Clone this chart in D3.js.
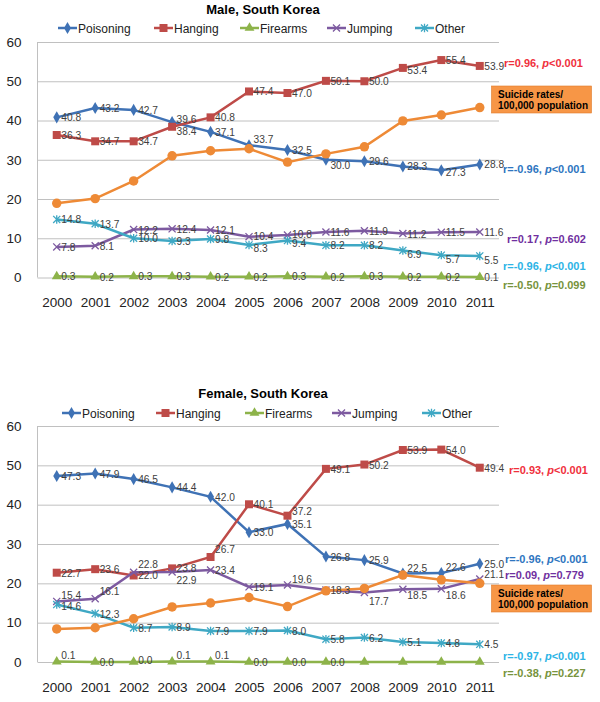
<!DOCTYPE html>
<html>
<head>
<meta charset="utf-8">
<script src="https://cdn.jsdelivr.net/npm/d3@7/dist/d3.min.js"></script>
<style>
	body { margin: 0; background: #fff; }
	svg { display: block; font-family: "Liberation Sans", Arial, sans-serif; }
	.grid line { stroke: #c0c0c0; stroke-width: 1; }
	.grid path { display: none; }
	.axis path, .axis line { display: none; }
	.axis text { fill: #222; font-size: 13.5px; }
	.series-line { fill: none; stroke-width: 2.5; }
	.value-label { fill: #404040; font-size: 10.2px; }
	.legend text { fill: #222; font-size: 12px; }
	.title { font-size: 13px; font-weight: bold; fill: #000; }
	.stat { font-size: 11px; font-weight: bold; }
	.box-text { font-size: 10px; font-weight: bold; fill: #000; }
</style>
</head>
<body>
<div id="graphic"></div>
<script>
// Data
var YEARS = [2000, 2001, 2002, 2003, 2004, 2005, 2006, 2007, 2008, 2009, 2010, 2011];
var SERIES = ['Poisoning', 'Hanging', 'Firearms', 'Jumping', 'Other'];

var MALE_POISONING = [40.8, 43.2, 42.7, 39.6, 37.1, 33.7, 32.5, 30.0, 29.6, 28.3, 27.3, 28.8];
var MALE_HANGING   = [36.3, 34.7, 34.7, 38.4, 40.8, 47.4, 47.0, 50.1, 50.0, 53.4, 55.4, 53.9];
var MALE_FIREARMS  = [0.3, 0.2, 0.3, 0.3, 0.2, 0.2, 0.3, 0.2, 0.3, 0.2, 0.2, 0.1];
var MALE_JUMPING   = [7.8, 8.1, 12.2, 12.4, 12.1, 10.4, 10.8, 11.6, 11.9, 11.2, 11.5, 11.6];
var MALE_OTHER     = [14.8, 13.7, 10.0, 9.3, 9.8, 8.3, 9.4, 8.2, 8.2, 6.9, 5.7, 5.5];
var MALE_TOTAL     = [18.9, 20.1, 24.6, 31.0, 32.3, 32.8, 29.4, 31.5, 33.3, 39.9, 41.4, 43.3];

var FEMALE_POISONING = [47.3, 47.9, 46.5, 44.4, 42.0, 33.0, 35.1, 26.8, 25.9, 22.5, 22.6, 25.0];
var FEMALE_HANGING   = [22.7, 23.6, 22.0, 23.8, 26.7, 40.1, 37.2, 49.1, 50.2, 53.9, 54.0, 49.4];
var FEMALE_FIREARMS  = [0.1, 0.0, 0.0, 0.1, 0.1, 0.0, 0.0, 0.0, 0.0, 0.0, 0.0, 0.0];
var FEMALE_JUMPING   = [15.4, 16.1, 22.8, 22.9, 23.4, 19.1, 19.6, 18.3, 17.7, 18.5, 18.6, 21.1];
var FEMALE_OTHER     = [14.6, 12.3, 8.7, 8.9, 7.9, 7.9, 8.0, 5.8, 6.2, 5.1, 4.8, 4.5];
var FEMALE_TOTAL     = [8.4, 8.7, 11.0, 14.0, 15.0, 16.4, 14.1, 18.1, 18.7, 22.1, 20.9, 20.0];

var MALE_STATS = [
	['Hanging', '0.96', '<0.001'],
	['Poisoning', '-0.96', '<0.001'],
	['Jumping', '0.17', '=0.602'],
	['Other', '-0.96', '<0.001'],
	['Firearms', '-0.50', '=0.099']
];
var FEMALE_STATS = [
	['Hanging', '0.93', '<0.001'],
	['Poisoning', '-0.96', '<0.001'],
	['Jumping', '0.09', '=0.779'],
	['Other', '-0.97', '<0.001'],
	['Firearms', '-0.38', '=0.227']
];

var Y_TICKS = [0, 10, 20, 30, 40, 50, 60];

// Styles
var COLORS = {
	'Poisoning': '#3f72b5',
	'Hanging': '#be4b48',
	'Firearms': '#8db34a',
	'Jumping': '#7d5aa0',
	'Other': '#3fa8c4',
	'Total': '#ee8a36'
};
var STAT_COLORS = {
	'Poisoning': '#2e75c0',
	'Hanging': '#f0303c',
	'Firearms': '#77933c',
	'Jumping': '#7030a0',
	'Other': '#2db4e6'
};

// label vertical nudges (px) where Excel moved labels off the default spot
var MALE_NUDGE = {
	'Poisoning-2003': -3, 'Poisoning-2005': -6, 'Poisoning-2007': 5, 'Poisoning-2010': 2,
	'Hanging-2003': 4, 'Hanging-2009': 2,
	'Jumping-2005': -1, 'Jumping-2006': -1,
	'Other-2005': 3, 'Other-2006': 2,
	'Other-2009': 4, 'Other-2010': 4, 'Other-2011': 4
};
var FEMALE_NUDGE = {
	'Poisoning-2009': -6, 'Poisoning-2010': -6,
	'Hanging-2004': -8, 'Hanging-2006': -5,
	'Jumping-2000': -6, 'Jumping-2001': -8, 'Jumping-2002': -8, 'Jumping-2003': 8,
	'Jumping-2006': -6, 'Jumping-2008': 9, 'Jumping-2009': 6, 'Jumping-2010': 6, 'Jumping-2011': -5,
	'Other-2000': 1,
	'Firearms-2000': -7, 'Firearms-2003': -7, 'Firearms-2004': -7, 'Firearms-2002': -2
};

var symbolCross = {
	draw: function(context, size) {
		var r = Math.sqrt(size) / 2;
		context.moveTo(-r, -r); context.lineTo(r, r);
		context.moveTo(r, -r); context.lineTo(-r, r);
	}
};
var symbolStar = {
	draw: function(context, size) {
		var r = Math.sqrt(size) / 2;
		context.moveTo(-r, -r); context.lineTo(r, r);
		context.moveTo(r, -r); context.lineTo(-r, r);
		context.moveTo(0, -r * 1.2); context.lineTo(0, r * 1.2);
	}
};

function markerPath(name) {
	var s = d3.symbol();
	if (name === 'Poisoning') return s.type(d3.symbolDiamond).size(42)();
	if (name === 'Hanging') return s.type(d3.symbolSquare).size(64)();
	if (name === 'Firearms') return s.type(d3.symbolTriangle).size(42)();
	if (name === 'Jumping') return s.type(symbolCross).size(50)();
	if (name === 'Other') return s.type(symbolStar).size(50)();
	return s.type(d3.symbolCircle).size(70)();
}
function isStroked(name) {
	return name === 'Jumping' || name === 'Other';
}

var svg = d3.select('#graphic').append('svg')
	.attr('width', 600)
	.attr('height', 702);

function renderChart(config) {
	var left = 37.5, right = 499;
	var top = config.top, bottom = config.bottom;

	var xScale = d3.scalePoint()
		.domain(YEARS)
		.range([left, right])
		.padding(0.5);

	var yScale = d3.scaleLinear()
		.domain([0, 60])
		.range([bottom, top]);

	var g = svg.append('g');

	// grid
	g.append('g')
		.attr('class', 'grid')
		.attr('transform', 'translate(' + left + ',0)')
		.call(d3.axisLeft(yScale).tickValues(Y_TICKS).tickSize(-(right - left)).tickFormat(''));

	g.append('line')
		.attr('x1', left).attr('x2', left)
		.attr('y1', top).attr('y2', bottom)
		.attr('stroke', '#c0c0c0');

	// axes
	g.append('g')
		.attr('class', 'axis')
		.attr('transform', 'translate(' + left + ',0)')
		.call(d3.axisLeft(yScale).tickValues(Y_TICKS).tickSize(0).tickPadding(16))
		.selectAll('text').attr('font-size', '14px');

	g.append('g')
		.attr('class', 'axis')
		.attr('transform', 'translate(0,' + bottom + ')')
		.call(d3.axisBottom(xScale).tickSize(0).tickPadding(20).tickFormat(d3.format('d')));

	var series = SERIES.map(function(name, i) {
		return { name: name, values: config.data[i] };
	});
	var total = { name: 'Total', values: config.total };

	var line = d3.line()
		.x(function(d, i) { return xScale(YEARS[i]); })
		.y(function(d) { return yScale(d); });

	series.concat([total]).forEach(function(s) {
		var color = COLORS[s.name];
		g.append('path')
			.attr('class', 'series-line')
			.attr('stroke', color)
			.attr('d', line(s.values));

		g.append('g').selectAll('path')
			.data(s.values)
			.enter().append('path')
			.attr('transform', function(d, i) {
				return 'translate(' + xScale(YEARS[i]) + ',' + yScale(d) + ')';
			})
			.attr('d', markerPath(s.name))
			.attr('fill', isStroked(s.name) ? 'none' : color)
			.attr('stroke', color)
			.attr('stroke-width', isStroked(s.name) ? 1.3 : 0);
	});

	// value labels
	series.forEach(function(s) {
		g.append('g').selectAll('text')
			.data(s.values)
			.enter()
			.filter(function(d, i) {
				return !(config.noLabel && config.noLabel(s.name, i));
			})
			.append('text')
			.attr('class', 'value-label')
			.attr('x', function(d, i) { return xScale(YEARS[i]) + 4.5; })
			.attr('y', function(d, i) {
				var nudge = config.nudge[s.name + '-' + YEARS[i]] || 0;
				return yScale(d) + 4 + nudge;
			})
			.text(function(d) { return d.toFixed(1); });
	});

	// title
	svg.append('text')
		.attr('class', 'title')
		.attr('x', 263)
		.attr('y', config.titleY)
		.attr('text-anchor', 'middle')
		.text(config.title);

	// legend
	var legend = svg.append('g').attr('class', 'legend');
	SERIES.forEach(function(name, i) {
		var lx = config.legendX[i], ly = config.legendY;
		var color = COLORS[name];
		legend.append('line')
			.attr('x1', lx).attr('x2', lx + 19)
			.attr('y1', ly).attr('y2', ly)
			.attr('stroke', color).attr('stroke-width', 2.5);
		legend.append('path')
			.attr('transform', 'translate(' + (lx + 9.5) + ',' + ly + ')')
			.attr('d', markerPath(name))
			.attr('fill', isStroked(name) ? 'none' : color)
			.attr('stroke', color)
			.attr('stroke-width', isStroked(name) ? 1.3 : 0);
		legend.append('text')
			.attr('x', lx + 20)
			.attr('y', ly + 4.5)
			.text(name);
	});

	// correlation statistics
	config.stats.forEach(function(st, i) {
		var t = svg.append('text')
			.attr('class', 'stat')
			.attr('x', config.statX[i])
			.attr('y', config.statY[i])
			.attr('fill', STAT_COLORS[st[0]]);
		t.append('tspan').text('r=' + st[1] + ', ');
		t.append('tspan').attr('font-style', 'italic').text('p');
		t.append('tspan').text(st[2]);
	});

	// box
	svg.append('rect')
		.attr('x', 491.5).attr('y', config.boxY)
		.attr('width', 100).attr('height', 27)
		.attr('fill', '#f79646')
		.attr('stroke', '#e07b28').attr('stroke-width', 0.6);
	svg.append('text').attr('class', 'box-text')
		.attr('x', 498).attr('y', config.boxY + 11.5)
		.text('Suicide rates/');
	svg.append('text').attr('class', 'box-text')
		.attr('x', 498).attr('y', config.boxY + 23)
		.text('100,000 population');
}

renderChart({
	title: 'Male, South Korea',
	titleY: 14,
	legendY: 28,
	legendX: [58, 154, 240, 327, 415],
	top: 42,
	bottom: 277.5,
	data: [MALE_POISONING, MALE_HANGING, MALE_FIREARMS, MALE_JUMPING, MALE_OTHER],
	total: MALE_TOTAL,
	nudge: MALE_NUDGE,
	stats: MALE_STATS,
	statX: [504, 503, 507, 503, 503],
	statY: [67, 173, 243, 270, 289],
	boxY: 86
});

renderChart({
	title: 'Female, South Korea',
	titleY: 398,
	legendY: 413,
	legendX: [62, 156, 245, 332, 422],
	top: 426,
	bottom: 662,
	data: [FEMALE_POISONING, FEMALE_HANGING, FEMALE_FIREARMS, FEMALE_JUMPING, FEMALE_OTHER],
	total: FEMALE_TOTAL,
	nudge: FEMALE_NUDGE,
	stats: FEMALE_STATS,
	statX: [509, 505, 505, 503, 503],
	statY: [474, 563, 579, 660, 677],
	boxY: 585,
	noLabel: function(name, i) { return name === 'Firearms' && i >= 8; }
});
</script>
</body>
</html>
